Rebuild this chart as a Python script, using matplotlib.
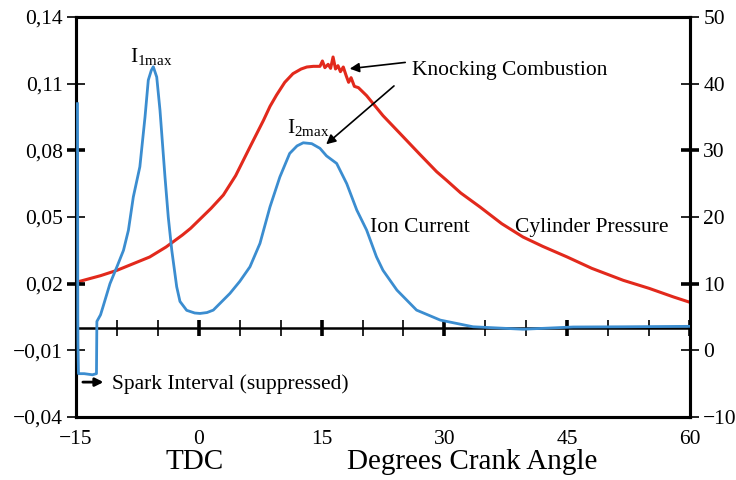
import matplotlib
matplotlib.use("Agg")
import matplotlib.pyplot as plt

plt.rcParams['font.family'] = ['Liberation Serif', 'DejaVu Serif']
plt.rcParams['mathtext.fontset'] = 'custom'
plt.rcParams['mathtext.rm'] = 'Liberation Serif'
plt.rcParams['mathtext.it'] = 'Liberation Serif:italic'

# ---- data ----
ion_x = [-14.82, -14.8, -14.78, -14.76, -14.7, -14.0, -13.0, -12.5, -12.45, -12.0,
         -11.7, -10.85, -10.0, -9.2, -8.6, -8.0, -7.2, -6.57, -6.17, -5.8,
         -5.56, -5.14, -4.74, -4.13, -3.73, -3.3, -2.7, -2.3, -1.48, -0.5,
         0.15, 1.0, 1.77, 3.8, 5.0, 6.25, 7.47, 8.7, 9.9, 11.1,
         12.0, 12.76, 13.8, 14.8, 15.6, 16.84, 18.07, 19.3, 20.1, 20.5,
         21.7, 22.5, 24.2, 26.6, 29.5, 33.5, 39.6, 45.75, 51.85, 60.0]
ion_current = [0.101, 0.060, 0.005, -0.007, -0.0205, -0.0205, -0.021, -0.0205, 0.003, 0.006,
               0.0096, 0.020, 0.0276, 0.035, 0.044, 0.059, 0.0726, 0.095, 0.1116, 0.116,
               0.1176, 0.113, 0.098, 0.068, 0.050, 0.035, 0.0186, 0.012, 0.008, 0.0068,
               0.0066, 0.0070, 0.0081, 0.0156, 0.021, 0.0276, 0.0381, 0.0546, 0.068, 0.0786,
               0.082, 0.0834, 0.083, 0.0809, 0.0775, 0.0741, 0.065, 0.0531, 0.0471, 0.0441,
               0.0321, 0.026, 0.0171, 0.0081, 0.0036, 0.0006, -0.0005, 0.0005, 0.0006, 0.0008]

press_x = [-15, -12, -10, -8, -6, -4, -3, -2, -1, 0,
           1.5, 3, 4.5, 6.25, 7.9, 8.7, 9.5, 10.5, 11.5, 12.5,
           13.2, 14.0, 14.8, 15.1, 15.4, 15.8, 16.1, 16.4, 16.7, 17.0,
           17.3, 17.65, 18.0, 18.3, 18.6, 19.0, 19.5, 20.0, 20.5, 21.3,
           22.5, 24.6, 27, 29.05, 30.27, 32, 34.35, 37, 39.6, 42,
           45, 48, 51.85, 55, 58, 60]
pressure = [10.2, 11.2, 12.0, 13.0, 14.0, 15.5, 16.4, 17.3, 18.3, 19.5,
            21.3, 23.3, 26.2, 30.5, 34.5, 36.6, 38.3, 40.2, 41.5, 42.2,
            42.5, 42.6, 42.6, 43.4, 42.4, 42.9, 42.3, 44.0, 42.2, 42.7,
            41.8, 42.5, 41.2, 40.2, 40.9, 39.6, 39.4, 38.8, 38.2, 37.0,
            35.2, 32.5, 29.4, 26.8, 25.5, 23.6, 21.5, 19.0, 17.0, 15.6,
            14.0, 12.3, 10.5, 9.3, 8.0, 7.2]

x_ticks = [-15, 0, 15, 30, 45, 60]
x_labels = ["\u221215", "0", "15", "30", "45", "60"]
left_ticks = [-0.04, -0.01, 0.02, 0.05, 0.08, 0.11, 0.14]
left_labels = ["\u22120,04", "\u22120,01", "0,02", "0,05", "0,08", "0,11", "0,14"]
right_ticks = [-10, 0, 10, 20, 30, 40, 50]
right_labels = ["\u221210", "0", "10", "20", "30", "40", "50"]
zero_ticks = list(range(-15, 61, 5))

BLUE = '#3b8dd0'
RED = '#e2291c'
FS = 15.5

fig = plt.figure(figsize=(7.36, 4.8), dpi=100)
ax = fig.add_axes([76/736, 1-417/480, 614/736, 400/480])
ax2 = ax.twinx()
ax.set_zorder(ax2.get_zorder() + 1)
ax.patch.set_visible(False)

ax2.plot(press_x, pressure, color=RED, lw=2.2, solid_joinstyle='round')
ax.plot(ion_x, ion_current, color=BLUE, lw=2.0, solid_joinstyle='round', zorder=3)

ax.set_xlim(-15, 60)
ax.set_ylim(-0.04, 0.14)
ax2.set_ylim(-10, 50)

# zero line with ticks
ax.axhline(0, color='black', lw=1.8, zorder=1)
for t in zero_ticks:
    ax.plot([t], [0], marker='|', color='black', ms=11,
            mew=2.6 if t % 15 == 0 else 1.2, zorder=1)

ax.set_xticks(x_ticks)
ax.set_xticklabels(x_labels, fontsize=FS)
ax.tick_params(axis='x', length=0, pad=9)
ax.set_yticks(left_ticks)
ax.set_yticklabels(left_labels, fontsize=FS)
ax.tick_params(axis='y', direction='inout', length=13, width=1.2, pad=3)
ax2.set_yticks(right_ticks)
ax2.set_yticklabels(right_labels, fontsize=FS)
ax2.tick_params(axis='y', direction='inout', length=13, width=1.2, pad=3)

for i, t in enumerate(left_ticks):
    if t in (0.02, 0.08):
        ax.yaxis.get_major_ticks()[i].tick1line.set_markeredgewidth(2.6)
for i, t in enumerate(right_ticks):
    if t in (10, 30):
        ax2.yaxis.get_major_ticks()[i].tick2line.set_markeredgewidth(2.6)

for a in (ax, ax2):
    for s in a.spines.values():
        s.set_linewidth(2.2)

# annotations
ax.text(-8.4, 0.1197, r"I$_{\mathrm{1max}}$", fontsize=FS, va='baseline', ha='left')
ax.text(10.73, 0.0878, r"I$_{\mathrm{2max}}$", fontsize=FS, va='baseline', ha='left')
ax.text(26.0, 0.1139, "Knocking Combustion", fontsize=FS, va='baseline', ha='left')
ax.text(20.91, 0.0433, "Ion Current", fontsize=FS, va='baseline', ha='left')
ax.text(38.62, 0.0433, "Cylinder Pressure", fontsize=FS, va='baseline', ha='left')
ax.text(-10.64, -0.0276, "Spark Interval (suppressed)", fontsize=FS, va='baseline', ha='left')

arrow = dict(arrowstyle='-|>', color='black', lw=1.2, mutation_scale=14)
ax.annotate("", xy=(18.1, 0.1166), xytext=(25.55, 0.1197), arrowprops=arrow)
ax.annotate("", xy=(15.3, 0.0819), xytext=(24.1, 0.1098), arrowprops=arrow)
ax.annotate("", xy=(-11.3, -0.0243), xytext=(-14.5, -0.0243),
            arrowprops=dict(arrowstyle='-|>', color='black', lw=2.0, mutation_scale=12))

fig.text(165/736, 1-469/480, "TDC", fontsize=21, va='baseline', ha='left')
fig.text(347/736, 1-469/480, "Degrees Crank Angle", fontsize=21, va='baseline', ha='left')

fig.savefig("out.png", dpi=100)
